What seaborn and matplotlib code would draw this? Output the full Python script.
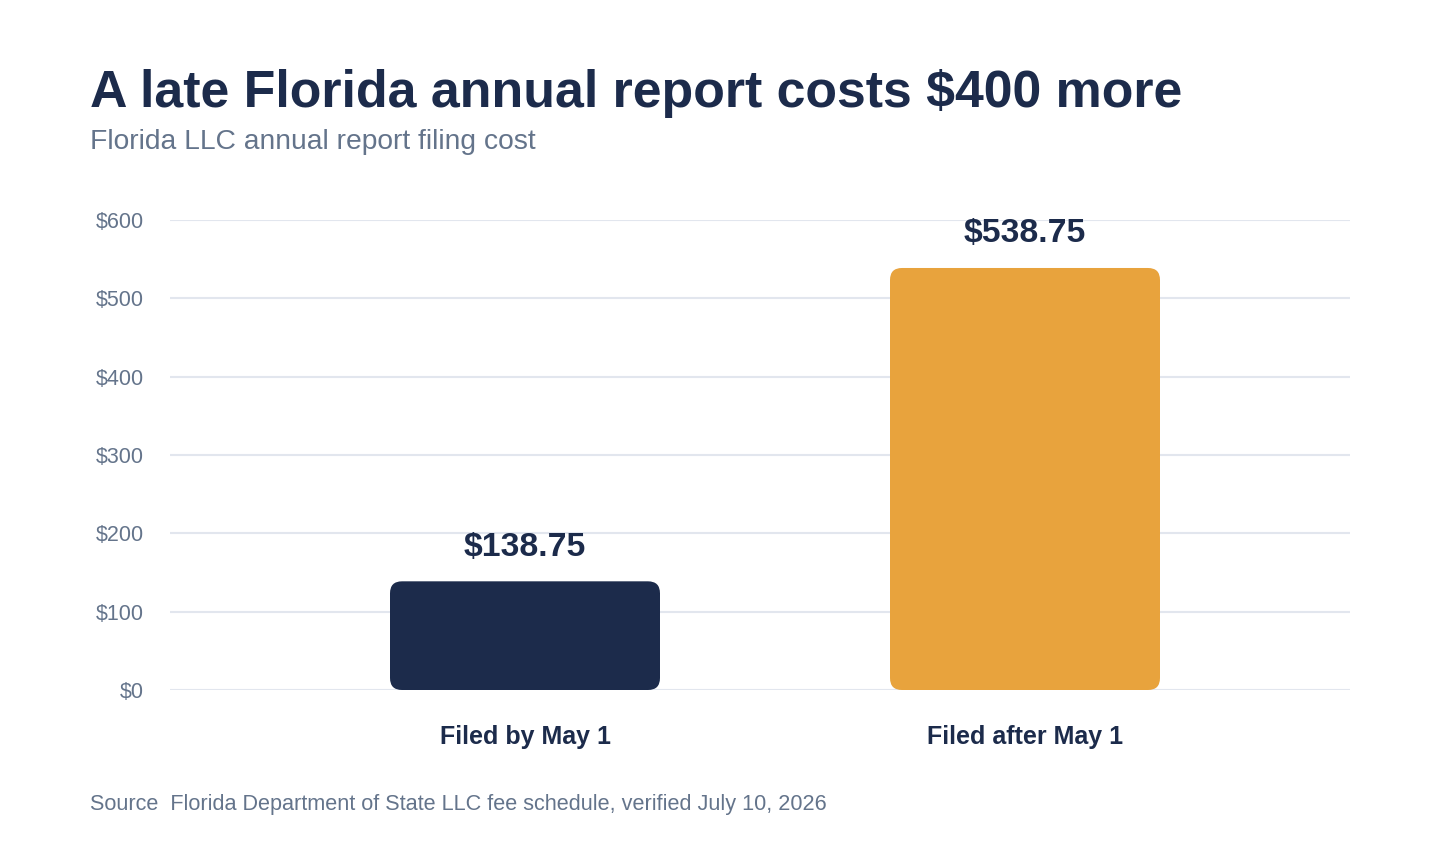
import matplotlib
matplotlib.use("Agg")
import matplotlib.pyplot as plt
from matplotlib.patches import FancyBboxPatch
import seaborn as sns
import pandas as pd

# ----  data  ----
categories = ["Filed by May 1", "Filed after May 1"]
costs = [138.75, 538.75]
value_labels = ["$138.75", "$538.75"]
bar_colors = ["#1c2b4b", "#e8a33d"]
y_ticks = [0, 100, 200, 300, 400, 500, 600]
y_tick_labels = ["$0", "$100", "$200", "$300", "$400", "$500", "$600"]

title = "A late Florida annual report costs $400 more"
subtitle = "Florida LLC annual report filing cost"
source = "Source  Florida Department of State LLC fee schedule, verified July 10, 2026"

NAVY = "#1c2b4b"
GRAY = "#64748b"
GRID = "#e2e6ee"


def main():
    sns.set_theme(style="white")
    plt.rcParams["font.family"] = ["Liberation Sans", "DejaVu Sans"]

    df = pd.DataFrame({"category": categories, "cost": costs})

    W, H = 1440, 860
    fig = plt.figure(figsize=(W / 100, H / 100), dpi=100)
    ax = fig.add_axes([170 / W, 1 - 690 / H, (1350 - 170) / W, (690 - 220) / H])

    sns.barplot(data=df, x="category", y="cost", hue="category",
                palette=bar_colors, legend=False, width=0.54,
                saturation=1, ax=ax, zorder=2)

    ax.set_xlim(-0.71, 1.65)
    ax.set_ylim(0, 600)
    ax.set_yticks(y_ticks)
    ax.set_yticklabels(y_tick_labels)
    ax.yaxis.grid(True, color=GRID, linewidth=1.5, zorder=0)
    ax.set_axisbelow(True)
    for s in ax.spines.values():
        s.set_visible(False)
    ax.set_xlabel("")
    ax.set_ylabel("")
    ax.tick_params(axis="y", length=0, pad=19, labelsize=15.5, labelcolor=GRAY)
    ax.tick_params(axis="x", length=0, pad=25.5, labelsize=18, labelcolor=NAVY)
    for lbl in ax.get_xticklabels():
        lbl.set_fontweight("bold")

    # swap the flat bars for rounded ones
    x_per_px = (1.65 + 0.71) / (1350 - 170)
    y_per_px = 600 / (690 - 220)
    radius_px = 12
    for patch in list(ax.patches):
        x, y = patch.get_x(), patch.get_y()
        w, h = patch.get_width(), patch.get_height()
        color = patch.get_facecolor()
        patch.set_visible(False)
        rounded = FancyBboxPatch((x, y), w, h,
                                 boxstyle=f"round,pad=0,rounding_size={radius_px * x_per_px}",
                                 mutation_aspect=y_per_px / x_per_px,
                                 facecolor=color, edgecolor="none", zorder=2)
        ax.add_patch(rounded)

    for i, (v, lab) in enumerate(zip(costs, value_labels)):
        ax.annotate(lab, (i, v), xytext=(0, 18.5), textcoords="offset points",
                    ha="center", va="baseline", fontsize=24.3, fontweight="bold",
                    color=NAVY, zorder=3)

    fig.text(90 / W, 1 - 107 / H, title, ha="left", va="baseline",
             fontsize=37.4, fontweight="bold", color=NAVY)
    fig.text(90 / W, 1 - 149 / H, subtitle, ha="left", va="baseline",
             fontsize=20.3, color=GRAY)
    fig.text(90 / W, 1 - 810 / H, source, ha="left", va="baseline",
             fontsize=15.6, color=GRAY)

    fig.savefig("out.png", dpi=100, facecolor="white")


if __name__ == "__main__":
    main()
